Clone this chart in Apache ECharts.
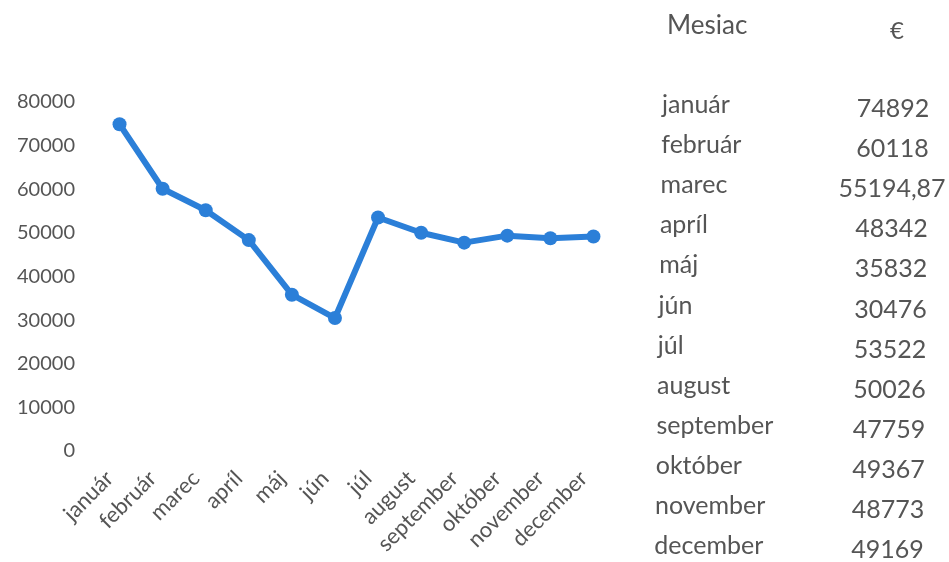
<!DOCTYPE html>
<html><head><meta charset="utf-8">
<script src="https://cdn.jsdelivr.net/npm/echarts@6/dist/echarts.min.js"></script>
<style>html,body{margin:0;padding:0;background:#fff}#c{width:949px;height:562px}</style>
</head><body><div id="c"></div>
<script>
const months = ['január','február','marec','apríl','máj','jún','júl','august','september','október','november','december'];
const values = [74892, 60118, 55194.87, 48342, 35832, 30476, 53522, 50026, 47759, 49367, 48773, 49169];
const valueLabels = ['74892','60118','55194,87','48342','35832','30476','53522','50026','47759','49367','48773','49169'];
const headers = ['Mesiac','€'];
const yTicks = [0,10000,20000,30000,40000,50000,60000,70000,80000];

const FONT = 'Lato';
const TXT = '#555555';
const graphics = [];
graphics.push({type:'text', left:667, top:13, style:{text:headers[0], font:'26px '+FONT, fill:TXT}});
graphics.push({type:'text', x:897, y:31, style:{text:headers[1], font:'24px '+FONT, fill:TXT, textAlign:'center', textVerticalAlign:'middle'}});
months.forEach((m,i)=>{
  const y = 105 + i*40.1;
  graphics.push({type:'text', x:662 - i*0.7, y:y, style:{text:m, font:'25px '+FONT, fill:TXT, textAlign:'left', textVerticalAlign:'middle'}});
  graphics.push({type:'text', x:893 - i*0.5, y:y+4, style:{text:valueLabels[i], font:'25px '+FONT, fill:TXT, textAlign:'center', textVerticalAlign:'middle'}});
});

const chart = echarts.init(document.getElementById('c'));
chart.setOption({
  animation:false,
  backgroundColor:'#fff',
  grid:{left:98, right:949-615, top:102, bottom:111, containLabel:false},
  xAxis:{type:'category', data:months, boundaryGap:true,
    axisLine:{show:false}, axisTick:{show:false},
    axisLabel:{rotate:45, interval:0, margin:14, padding:[0,14,0,0], color:TXT, fontFamily:FONT, fontSize:22}},
  yAxis:{type:'value', min:yTicks[0], max:yTicks[yTicks.length-1], interval:10000,
    splitLine:{show:false}, axisLine:{show:false}, axisTick:{show:false},
    axisLabel:{margin:23, color:TXT, fontFamily:FONT, fontSize:20, formatter:v=>String(v)}},
  series:[{type:'line', data:values, symbol:'circle', symbolSize:14,
    lineStyle:{width:6, color:'#2b7fd8'}, itemStyle:{color:'#2b7fd8'}}],
  graphic:graphics
});
</script></body></html>
